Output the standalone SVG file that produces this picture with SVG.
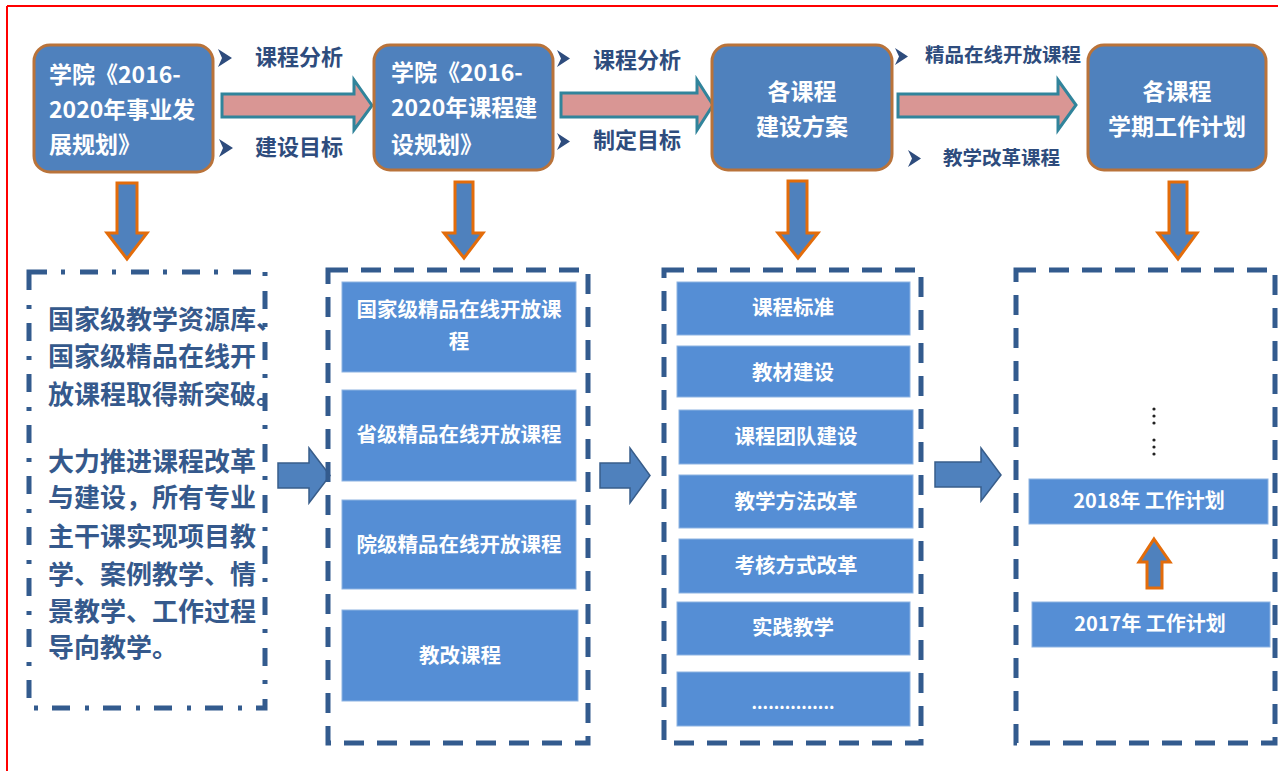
<svg xmlns="http://www.w3.org/2000/svg" width="1278" height="771" viewBox="0 0 1278 771">
<style>
.topbox{fill:#4F81BD;stroke:#B9733A;stroke-width:3}
.pink{fill:#D99694;stroke:#31849B;stroke-width:3}
.down{fill:#4F81BD;stroke:#E36C0A;stroke-width:3}
.bluearr{fill:#4F81BD;stroke:#385D8A;stroke-width:1.5}
.cont{fill:none;stroke:#335B8E;stroke-width:5;stroke-dasharray:20 13}
.cont1{fill:none;stroke:#335B8E;stroke-width:5;stroke-dasharray:18 14 4 15}
.inner{fill:#558ED5;stroke:#8DB3E2;stroke-width:1}
.wt{fill:#FFFFFF;font-family:"Noto Sans CJK SC",sans-serif;font-weight:bold}
.lbl{fill:#2E4C7D;font-family:"Noto Sans CJK SC",sans-serif;font-weight:bold}
.body{fill:#35598C;font-family:"Noto Sans CJK SC",sans-serif;font-weight:bold;font-size:26px}
.chev{fill:#2E4C7D}
.mid{text-anchor:middle}
</style>

<g id="frame">
<line x1="7" y1="6" x2="1278" y2="6" stroke="#FF0000" stroke-width="2"/>
<line x1="7" y1="6" x2="7" y2="771" stroke="#FF0000" stroke-width="2"/>
</g>

<g id="connectors">
<path class="pink" d="M222,94 H354 V80 L372,105.5 L354,130 V117 H222 Z"/>
<path class="pink" d="M561,93 H697 V80 L713,105 L697,130 V117 H561 Z"/>
<path class="pink" d="M898,94 H1058 V80 L1076,105 L1058,130 V117 H898 Z"/>
<path class="down" d="M117,183 H137 V233 H147 L127,259 L107,233 H117 Z"/>
<path class="down" d="M455,182 H473 V233 H483 L464,258 L444,233 H455 Z"/>
<path class="down" d="M788,181 H807 V233 H818 L798,258 L778,233 H788 Z"/>
<path class="down" d="M1169,182 H1187 V233 H1197 L1178,259 L1158,233 H1169 Z"/>
<path class="bluearr" d="M278,463 H309 V448 L330,475.5 L309,503 V488 H278 Z"/>
<path class="bluearr" d="M600,463 H630 V448 L650,475.5 L630,503 V488 H600 Z"/>
<path class="bluearr" d="M935,462 H981 V448 L1001,475 L981,501 V487 H935 Z"/>
<path class="down" d="M1154,539 L1170,562 H1162 V588 H1147 V562 H1139 Z"/>
</g>

<g id="labels">
<path class="chev" d="M218,49 L232,58 L218,67 L222,58 Z"/>
<text class="lbl" x="255" y="65" font-size="22">课程分析</text>
<path class="chev" d="M219,139 L233,148 L219,157 L223,148 Z"/>
<text class="lbl" x="255" y="155" font-size="22">建设目标</text>
<path class="chev" d="M557,50 L570,58.5 L557,67 L561,58.5 Z"/>
<text class="lbl" x="593" y="68" font-size="22">课程分析</text>
<path class="chev" d="M557,133 L570,141.5 L557,150 L561,141.5 Z"/>
<text class="lbl" x="593" y="148" font-size="22">制定目标</text>
<path class="chev" d="M895,48 L908,56.5 L895,65 L899,56.5 Z"/>
<text class="lbl" x="925" y="62" font-size="19.5">精品在线开放课程</text>
<path class="chev" d="M908,150 L921,158.5 L908,167 L912,158.5 Z"/>
<text class="lbl" x="943" y="165" font-size="19.5">教学改革课程</text>
</g>

<g id="node-plan1">
<rect class="topbox" x="34" y="45" width="179" height="127" rx="16"/>
<text class="wt" x="49" y="83" font-size="23">学院《2016-</text>
<text class="wt" x="49" y="118" font-size="23">2020年事业发</text>
<text class="wt" x="49" y="153" font-size="23">展规划》</text>
</g>

<g id="node-plan2">
<rect class="topbox" x="374" y="45" width="179" height="125" rx="16"/>
<text class="wt" x="391" y="81" font-size="23">学院《2016-</text>
<text class="wt" x="391" y="116" font-size="23">2020年课程建</text>
<text class="wt" x="391" y="153" font-size="23">设规划》</text>
</g>

<g id="node-scheme">
<rect class="topbox" x="712" y="45" width="180" height="125" rx="16"/>
<text class="wt mid" x="802" y="100" font-size="23">各课程</text>
<text class="wt mid" x="802" y="135" font-size="23">建设方案</text>
</g>

<g id="node-term">
<rect class="topbox" x="1088" y="45" width="178" height="125" rx="16"/>
<text class="wt mid" x="1177" y="100" font-size="23">各课程</text>
<text class="wt mid" x="1177" y="135" font-size="23">学期工作计划</text>
</g>

<g id="node-goals">
<rect class="cont1" x="29" y="272" width="236" height="436"/>
<text class="body" x="48" y="329">国家级教学资源库、</text>
<text class="body" x="48" y="366">国家级精品在线开</text>
<text class="body" x="48" y="404">放课程取得新突破。</text>
<text class="body" x="48" y="471">大力推进课程改革</text>
<text class="body" x="48" y="507">与建设，所有专业</text>
<text class="body" x="48" y="546">主干课实现项目教</text>
<text class="body" x="48" y="584">学、案例教学、情</text>
<text class="body" x="48" y="621">景教学、工作过程</text>
<text class="body" x="48" y="657">导向教学。</text>
</g>

<g id="node-courses">
<rect class="cont" x="328" y="270" width="260" height="473"/>
<rect class="inner" x="342" y="282" width="234" height="90"/>
<text class="wt mid" x="459" y="317" font-size="20.5">国家级精品在线开放课</text>
<text class="wt mid" x="459" y="349" font-size="20.5">程</text>
<rect class="inner" x="342" y="390" width="234" height="91"/>
<text class="wt mid" x="459" y="442" font-size="20.5">省级精品在线开放课程</text>
<rect class="inner" x="342" y="500" width="234" height="89"/>
<text class="wt mid" x="459" y="552" font-size="20.5">院级精品在线开放课程</text>
<rect class="inner" x="342" y="610" width="236" height="91"/>
<text class="wt mid" x="460" y="663" font-size="20.5">教改课程</text>
</g>

<g id="node-content">
<rect class="cont" x="664" y="270" width="257" height="473"/>
<rect class="inner" x="677" y="282" width="233" height="53"/>
<text class="wt mid" x="793" y="315" font-size="20.5">课程标准</text>
<rect class="inner" x="677" y="346" width="233" height="51"/>
<text class="wt mid" x="793" y="380" font-size="20.5">教材建设</text>
<rect class="inner" x="679" y="410" width="234" height="54"/>
<text class="wt mid" x="796" y="444" font-size="20.5">课程团队建设</text>
<rect class="inner" x="679" y="475" width="234" height="53"/>
<text class="wt mid" x="796" y="509" font-size="20.5">教学方法改革</text>
<rect class="inner" x="679" y="539" width="234" height="54"/>
<text class="wt mid" x="796" y="573" font-size="20.5">考核方式改革</text>
<rect class="inner" x="677" y="602" width="233" height="53"/>
<text class="wt mid" x="793" y="635" font-size="20.5">实践教学</text>
<rect class="inner" x="677" y="672" width="233" height="54"/>
<text class="wt mid" x="793" y="709" font-size="17" font-family="Liberation Sans, sans-serif">...............</text>
</g>

<g id="node-yearly">
<rect class="cont" x="1016" y="270" width="259" height="473"/>
<circle cx="1154" cy="409" r="1.6" fill="#222"/>
<circle cx="1154" cy="416" r="1.6" fill="#222"/>
<circle cx="1154" cy="423" r="1.6" fill="#222"/>
<circle cx="1154" cy="440" r="1.6" fill="#222"/>
<circle cx="1154" cy="447" r="1.6" fill="#222"/>
<circle cx="1154" cy="454" r="1.6" fill="#222"/>
<rect class="inner" x="1029" y="479" width="239" height="45"/>
<text class="wt mid" x="1149" y="508" font-size="20">2018年 工作计划</text>
<rect class="inner" x="1032" y="602" width="238" height="45"/>
<text class="wt mid" x="1150" y="631" font-size="20">2017年 工作计划</text>
</g>
</svg>
